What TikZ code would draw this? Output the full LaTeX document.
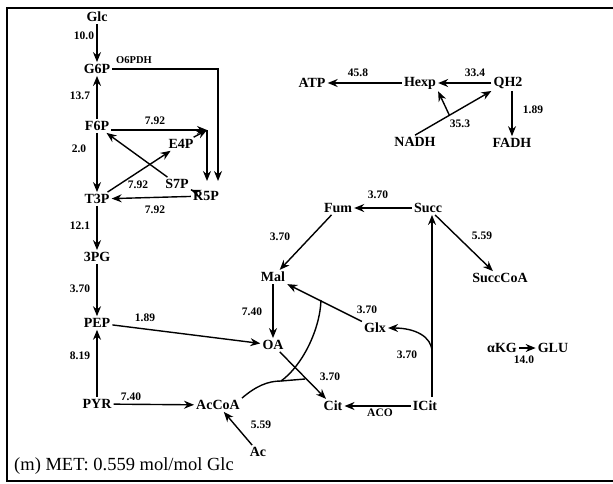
\documentclass[tikz,border=0pt]{standalone}
\usepackage{fontspec}
\setmainfont{Liberation Serif}
\usetikzlibrary{arrows.meta,calc}
\begin{document}
\begin{tikzpicture}[x=1pt,y=-1pt,
 met/.style={font=\fontsize{14}{15}\selectfont\bfseries, inner sep=2pt},
 num/.style={font=\fontsize{11.5}{12}\selectfont\bfseries, inner sep=0pt},
 arr/.style={line width=1.4pt, -{Stealth[length=10pt,width=8pt]}},
 ln/.style={line width=1.4pt}]
\useasboundingbox (0,0) rectangle (613,483);
\draw[line width=1.4pt] (7,8) rectangle (620,481);
% metabolites
\node[met] (glc) at (97,17) {Glc};
\node[met] (g6p) at (97,69) {G6P};
\node[met] (f6p) at (97,126) {F6P};
\node[met] (e4p) at (181,144) {E4P};
\node[met] (t3p) at (97,199) {T3P};
\node[met] (s7p) at (177,184) {S7P};
\node[met] (r5p) at (206,196) {R5P};
\node[met] (pg3) at (97,257) {3PG};
\node[met] (pep) at (97,323) {PEP};
\node[met] (pyr) at (97,404) {PYR};
\node[met] (accoa) at (218,405) {AcCoA};
\node[met] (ac) at (258,452) {Ac};
\node[met] (oa) at (273,345) {OA};
\node[met] (mal) at (273,277) {Mal};
\node[met] (fum) at (338,208) {Fum};
\node[met] (succ) at (428,208) {Succ};
\node[met] (succcoa) at (500,278) {SuccCoA};
\node[met] (glx) at (375,328) {Glx};
\node[met] (cit) at (333,406) {Cit};
\node[met] (icit) at (425,406) {ICit};
\node[met] (atp) at (312,83) {ATP};
\node[met] (hexp) at (420,83) {Hexp};
\node[met] (qh2) at (508,83) {QH2};
\node[met] (nadh) at (415,142) {NADH};
\node[met] (fadh) at (512,143) {FADH};
\node[met] (akg) at (502,348) {αKG};
\node[met] (glu) at (553,348) {GLU};
% flux labels
\node[num] (n1) at (84,36) {10.0};
\node[num,font=\fontsize{10.5}{11}\selectfont\bfseries] (n2) at (134,60) {O6PDH};
\node[num] (n3) at (80,96) {13.7};
\node[num] (n4) at (155,121) {7.92};
\node[num] (n5) at (79,149) {2.0};
\node[num] (n6) at (138,185) {7.92};
\node[num] (n7) at (155,210) {7.92};
\node[num] (n8) at (80,226) {12.1};
\node[num] (n9) at (80,289) {3.70};
\node[num] (n10) at (145,318) {1.89};
\node[num] (n11) at (80,356) {8.19};
\node[num] (n12) at (131,397) {7.40};
\node[num] (n13) at (261,425) {5.59};
\node[num] (n14) at (358,73) {45.8};
\node[num] (n15) at (475,73) {33.4};
\node[num] (n16) at (533,110) {1.89};
\node[num] (n17) at (460,124) {35.3};
\node[num] (n18) at (378,195) {3.70};
\node[num] (n19) at (280,237) {3.70};
\node[num] (n20) at (482,236) {5.59};
\node[num] (n21) at (252,312) {7.40};
\node[num] (n22) at (367,310) {3.70};
\node[num] (n23) at (407,355) {3.70};
\node[num] (n24) at (330,377) {3.70};
\node[num] (n25) at (380,413) {ACO};
\node[num] (n26) at (524,360) {14.0};
\node[anchor=west,font=\fontsize{18.5}{20}\selectfont,inner sep=0pt] (cap) at (14,466) {(m) MET: 0.559 mol/mol Glc};
% junction coordinates
\coordinate (o6) at (218,69);
\coordinate (o6in) at (218,181);
\coordinate (j1) at (207,130);
\coordinate (j1in) at (207,181);
\coordinate (v1) at (432,397);
\coordinate (v2) at (432,352);
\coordinate (k1) at (281,381);
\coordinate (k2) at (305,379);
\coordinate (k3) at (321,300);
% glycolysis
\draw[arr] (glc) -- (g6p);
\draw[arr] (f6p) -- (g6p);
\draw[arr] (f6p) -- (t3p);
\draw[arr] (t3p) -- (pg3);
\draw[arr] (pg3) -- (pep);
\draw[arr] (pyr) -- (pep);
% pentose phosphate
\draw[arr] (g6p.east) -- (o6) -- (o6in);
\draw[arr] (f6p.east |- j1) -- (j1);
\draw[arr] (e4p) -- (j1);
\draw[arr] (j1) -- (j1in);
\draw[arr] (t3p) -- (e4p);
\draw[arr] (s7p) -- (f6p);
\draw[arr] (r5p) -- (s7p);
\draw[arr] (r5p) -- (t3p);
% anaplerotic / TCA
\draw[arr] (pep) -- (oa);
\draw[arr] (pyr) -- (accoa);
\draw[arr] (ac) -- (accoa);
\draw[arr] (mal) -- (oa);
\draw[arr] (oa) -- (cit);
\draw[arr] (glx) -- (mal);
\draw[arr] (icit) -- (cit);
\draw[arr] (succ) -- (fum);
\draw[arr] (fum) -- (mal);
\draw[arr] (succ) -- (succcoa);
\draw[arr] (v1) -- (v1 |- succ.south);
\draw[arr] (v2) .. controls (432,336) and (414,328) .. (glx.east);
\draw[ln] (accoa.north east) .. controls (256,386) and (268,381) .. (k1) -- (k2);
\draw[ln] (k1) .. controls (302,366) and (320,330) .. (k3);
% energy
\draw[arr] (hexp) -- (atp);
\draw[arr] (qh2) -- (hexp);
\draw[arr] (qh2.south -| fadh) -- (fadh);
\draw[arr] (nadh.north) -- (qh2.south west);
\coordinate (b1) at ($(nadh.north)!0.45!(qh2.south west)$);
\draw[arr] (b1) -- (hexp.south east);
\draw[arr] (akg) -- (glu);
\end{tikzpicture}
\end{document}
